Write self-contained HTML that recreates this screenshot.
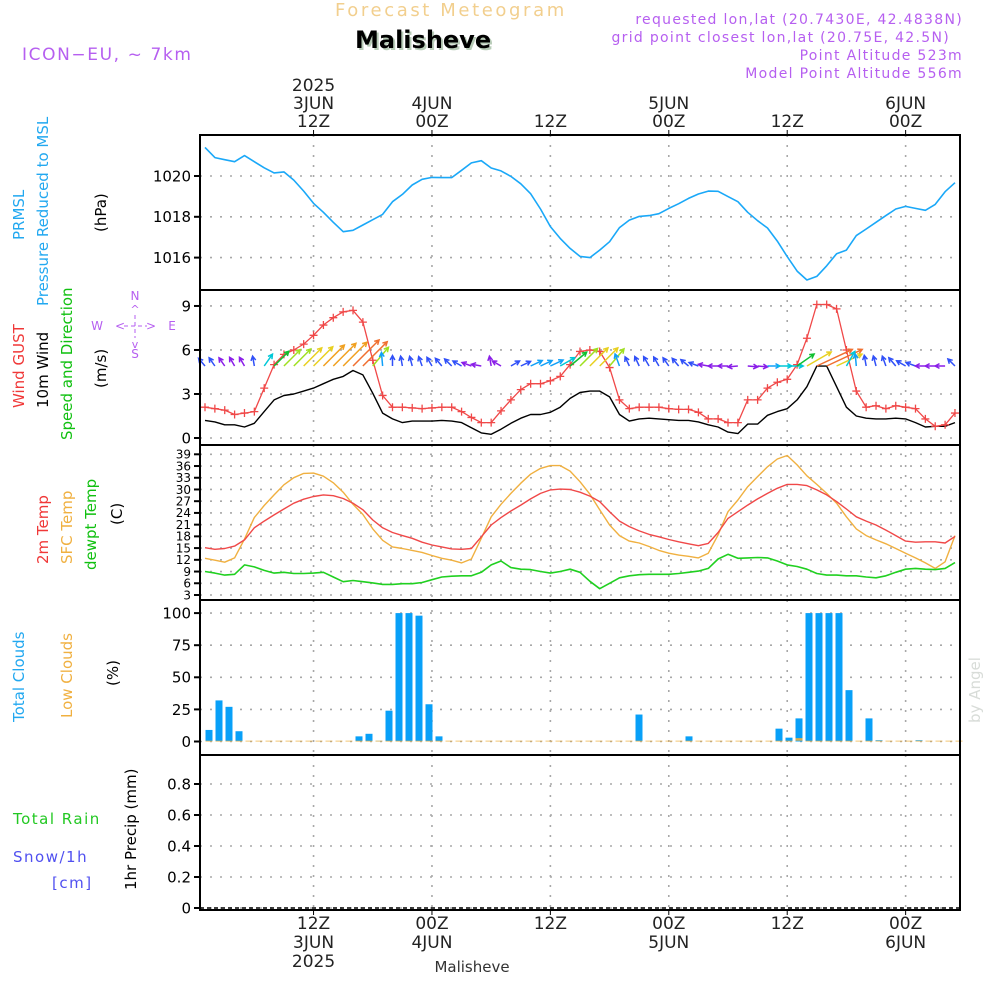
<!DOCTYPE html>
<html><head><meta charset="utf-8"><title>Forecast Meteogram - Malisheve</title>
<style>
html,body{margin:0;padding:0;background:#fff;}
svg{display:block;}
text{font-family:"DejaVu Sans","Liberation Sans",sans-serif;}
</style></head>
<body>
<svg id="chart" width="1000" height="1000" viewBox="0 0 1000 1000" xmlns="http://www.w3.org/2000/svg">
<rect x="0" y="0" width="1000" height="1000" fill="#fff"/>
<text x="335" y="16" font-size="18" fill="#f2cf8e" letter-spacing="2.6">Forecast Meteogram</text>
<text x="357" y="50" font-size="24" font-weight="bold" fill="#b8ccb8" font-family="Liberation Serif,serif">Malisheve</text>
<text x="355" y="48" font-size="24" font-weight="bold" fill="#000" font-family="Liberation Serif,serif">Malisheve</text>
<text x="22" y="60" font-size="17" fill="#b65ff0" letter-spacing="1.6">ICON−EU, ~ 7km</text>
<g font-size="14" fill="#b65ff0" text-anchor="end" letter-spacing="1.3">
<text x="963" y="24">requested lon,lat (20.7430E, 42.4838N)</text>
<text x="950" y="42">grid point closest lon,lat (20.75E, 42.5N)</text>
<text x="963" y="60">Point Altitude 523m</text>
<text x="963" y="78">Model Point Altitude 556m</text>
</g>
<text x="980" y="690" font-size="15" fill="#d8dcd8" font-family="Liberation Serif,serif" transform="rotate(-90 980 690)" text-anchor="middle">by Angel</text>

<g font-size="15">
<text transform="translate(24,240) rotate(-90)" fill="#22a8f0">PRMSL</text>
<text transform="translate(48,306) rotate(-90)" fill="#22a8f0">Pressure Reduced to MSL</text>
<text transform="translate(106,232) rotate(-90)" fill="#000">(hPa)</text>
<text transform="translate(24,408) rotate(-90)" fill="#f03838">Wind GUST</text>
<text transform="translate(48,408) rotate(-90)" fill="#000">10m Wind</text>
<text transform="translate(72,440) rotate(-90)" fill="#10c010">Speed and Direction</text>
<text transform="translate(106,388) rotate(-90)" fill="#000">(m/s)</text>
<text transform="translate(48,564) rotate(-90)" fill="#f03838">2m Temp</text>
<text transform="translate(72,564) rotate(-90)" fill="#f0b040">SFC Temp</text>
<text transform="translate(96,570) rotate(-90)" fill="#10c010">dewpt Temp</text>
<text transform="translate(122,525) rotate(-90)" fill="#000">(C)</text>
<text transform="translate(24,722) rotate(-90)" fill="#22a8f0">Total Clouds</text>
<text transform="translate(72,718) rotate(-90)" fill="#f0b040">Low Clouds</text>
<text transform="translate(118,686) rotate(-90)" fill="#000">(%)</text>
<text transform="translate(136,890) rotate(-90)" fill="#000">1hr Precip (mm)</text>
<text x="13" y="824" fill="#22c822" letter-spacing="1.5">Total  Rain</text>
<text x="13" y="862" fill="#5050f0" letter-spacing="1.5">Snow/1h</text>
<text x="52" y="888" fill="#5050f0" letter-spacing="1.5">[cm]</text>
</g>
<g fill="#b65ff0" stroke="#b65ff0" font-size="12" text-anchor="middle">
<text x="135" y="300" stroke="none">N</text>
<text x="135" y="358" stroke="none">S</text>
<text x="97" y="330" stroke="none">W</text>
<text x="172" y="330" stroke="none">E</text>
<text x="135" y="313" stroke="none" font-size="11">^</text>
<text x="135" y="348" stroke="none" font-size="11">v</text>
<text x="120" y="330" stroke="none" font-size="12">&lt;</text>
<text x="151" y="330" stroke="none" font-size="12">&gt;</text>
<line x1="124" y1="326" x2="147" y2="326" stroke-width="1" stroke-dasharray="4,3"/>
<line x1="135" y1="315" x2="135" y2="338" stroke-width="1" stroke-dasharray="4,3"/>
</g>

<g id="grid"></g>
<g id="marks"></g>
<g id="axes"></g>
</svg>
<script>
const pressure = [1021.4,1020.9,1020.8,1020.7,1021.0,1020.7,1020.4,1020.15,1020.2,1019.8,1019.26,1018.66,1018.22,1017.73,1017.27,1017.34,1017.6,1017.86,1018.12,1018.74,1019.1,1019.56,1019.84,1019.93,1019.92,1019.92,1020.28,1020.64,1020.75,1020.39,1020.25,1019.98,1019.62,1019.13,1018.38,1017.52,1016.94,1016.45,1016.06,1016.0,
1016.37,1016.78,1017.47,1017.84,1018.02,1018.06,1018.15,1018.41,1018.64,1018.9,1019.12,1019.26,1019.25,1018.99,1018.74,1018.22,1017.81,1017.45,1016.81,1016.05,1015.34,1014.9,1015.08,1015.6,1016.19,1016.37,1017.08,1017.4,1017.73,1018.06,1018.38,1018.51,1018.41,1018.32,1018.61,1019.23,1019.67];
const windGust = [2.1,2.0,1.9,1.6,1.7,1.8,3.4,5.0,5.7,6.0,6.4,7.0,7.7,8.2,8.6,8.7,7.9,5.3,2.9,2.1,2.1,2.05,2.0,2.05,2.1,2.1,1.8,1.4,1.05,1.05,1.85,2.6,3.3,3.7,3.7,3.9,4.2,5.0,5.9,
6.0,5.9,4.8,2.6,2.0,2.1,2.1,2.1,2.0,1.95,1.95,1.75,1.3,1.3,1.05,1.05,2.6,2.6,3.4,3.8,4.0,5.0,6.8,9.1,9.1,8.8,6.0,3.2,2.1,2.2,2.0,2.2,2.1,2.0,1.3,0.8,0.9,1.7];
const windSpeed = [1.2,1.1,0.9,0.9,0.75,1.0,1.8,2.6,2.9,3.0,3.2,3.4,3.7,4.0,4.2,4.6,4.3,3.05,1.7,1.3,1.05,1.15,1.15,1.15,1.2,1.15,1.05,0.7,0.35,0.25,0.6,1.0,1.35,1.6,1.6,1.75,2.1,2.7,3.1,3.2,
3.2,2.8,1.6,1.15,1.3,1.35,1.3,1.25,1.2,1.2,1.1,0.9,0.75,0.4,0.3,0.95,0.95,1.55,1.8,2.0,2.6,3.5,4.9,4.9,3.5,2.1,1.5,1.35,1.3,1.3,1.35,1.3,1.05,0.75,0.8,0.8,1.05];
const windDir = [130,125,125,120,120,100,55,45,45,45,45,45,45,45,45,45,45,50,95,90,100,105,110,120,130,135,150,160,170,100,150,30,25,25,25,25,30,40,45,45,
45,50,110,115,115,120,120,125,130,140,160,170,180,180,185,-5,-5,0,0,0,35,30,25,25,25,60,95,100,105,110,130,150,160,180,180,180,135];
const temp2m = [15.1,14.7,14.9,15.5,17.1,20.2,21.9,23.5,25.0,26.5,27.5,28.2,28.6,28.4,27.7,26.5,24.8,22.2,20.2,19.0,18.2,17.5,16.5,15.8,15.3,14.8,14.7,14.9,17.9,20.9,22.8,24.5,26.0,27.6,29.0,29.9,30.1,30.0,29.3,28.3,
26.9,24.3,21.9,20.5,19.4,18.5,17.9,17.2,16.6,16.1,15.6,16.2,19.0,22.6,24.3,26.0,27.6,29.0,30.3,31.3,31.3,31.0,29.9,28.6,26.9,25.0,23.0,21.9,20.9,19.6,18.2,16.8,16.5,16.6,16.6,16.3,18.0];
const tempSfc = [12.4,11.9,11.4,12.5,17.3,22.8,25.9,28.6,31.2,33.0,34.1,34.2,33.4,31.7,29.3,26.2,23.6,19.9,17.0,15.3,14.9,14.4,13.9,13.1,12.4,11.9,11.2,12.2,17.5,23.0,26.2,29.0,31.6,33.9,35.4,36.1,36.1,34.7,32.0,28.8,
24.8,20.9,18.2,16.8,16.3,15.4,14.4,13.7,13.2,12.9,12.5,13.7,18.4,24.3,27.3,30.7,33.3,35.8,37.8,38.7,36.3,33.5,31.3,29.0,26.5,23.0,19.9,18.2,17.1,16.1,14.9,13.7,12.5,11.2,9.8,11.5,18.2];
const dewpt = [9.0,8.6,8.1,8.3,10.7,10.2,9.3,8.6,8.8,8.5,8.5,8.6,8.8,7.6,6.4,6.7,6.4,6.1,5.7,5.7,5.9,5.9,6.2,6.9,7.6,7.8,7.9,7.9,8.8,10.7,11.7,10.0,9.6,9.5,9.0,8.6,9.0,9.6,8.8,6.5,
4.6,6.0,7.4,7.9,8.2,8.3,8.3,8.3,8.5,8.8,9.1,9.8,12.2,13.4,12.4,12.5,12.6,12.5,11.7,10.7,10.3,9.6,8.5,8.1,8.1,7.9,7.9,7.6,7.4,7.9,8.8,9.6,9.8,9.6,9.5,9.8,11.3];
const totalClouds = [9,32,27,8,0,0,0,0,0,0,0,0,0,0,0,4,6,0.5,24,100,100,98,29,4,0,0,0,0,0,0,0,0,0,0,0,0,0,0,0,0,
0,0,0,21,0,0,0,0,4,0,0,0,0,0,0,0,0,10,3,18,100,100,100,100,40,0,18,1,0,0,0,1,0,0,0,0];
const lowClouds = [0,0,0,0,0,0,0,0,0,0,0,0,0,0,0,0,0,0,0,0,0,0,0,0,0,0,0,0,0,0,0,0,0,0,0,0,0,0,0,0,
0,0,0,0,0,0,0,0,0,0,0,0,0,0,0,0,0,0,0,2,0,0,0,0,0,0,0,0,0,0,0,0,0,0,0,0];
const precip = [];
const pressureTicks = [1016,1018,1020];
const windTicks = [0,3,6,9];
const tempTicks = [3,6,9,12,15,18,21,24,27,30,33,36,39];
const cloudTicks = [0,25,50,75,100];
const precipTicks = [0,0.2,0.4,0.6,0.8];
const timeTickHours = [11,23,35,47,59,71];
const topTimeLabels = [["2025","3JUN","12Z"],["","4JUN","00Z"],["","","12Z"],["","5JUN","00Z"],["","","12Z"],["","6JUN","00Z"]];
const bottomTimeLabels = [["12Z","3JUN","2025"],["00Z","4JUN",""],["12Z","",""],["00Z","5JUN",""],["12Z","",""],["00Z","6JUN",""]];

const L=200,R=960;
const xh = h => 205 + h*9.868;
const xc = i => 209 + i*10;
const yP = p => 176 + (1020-p)*20.4;
const yW = v => 438 - v*14.67;
const yT = t => 454.3 + (39-t)*3.908;
const yC = c => 741.5 - c*1.284;
const yR = r => 908 - r*155;
const NS="http://www.w3.org/2000/svg";
const grid=document.getElementById('grid'), marks=document.getElementById('marks'), axes=document.getElementById('axes');
function mk(tag,attrs,parent){const e=document.createElementNS(NS,tag);for(const k in attrs)e.setAttribute(k,attrs[k]);parent.appendChild(e);return e;}
function txt(x,y,s,attrs,parent){const e=mk('text',Object.assign({x:x,y:y},attrs),parent);e.textContent=s;return e;}

function yAxis(ticks,yf,fmt,fs,name,top,bot){
  ticks.forEach(t=>{
    const y=yf(t);
    const g=mk('line',{x1:L,x2:R,y1:y,y2:y,stroke:'#a8a8a8','stroke-width':1.6,'stroke-dasharray':'2,8'},grid);
    
    
    const tk=mk('line',{x1:L-6,x2:L,y1:y,y2:y,stroke:'#000','stroke-width':2},axes);
    
    
    const lb=txt(L-9,y+fs*0.36,fmt(t),{'font-size':fs,'text-anchor':'end',fill:'#000'},axes);
    
    
  });
  timeTickHours.forEach(h=>{
    const x=xh(h);
    const v=mk('line',{x1:x,x2:x,y1:top,y2:bot,stroke:'#a8a8a8','stroke-width':1.6,'stroke-dasharray':'2,8'},grid);
    
    
  });
}
yAxis(pressureTicks,yP,String,15,'pressure-axis',135,290);
yAxis(windTicks,yW,String,15,'wind-axis',290,445);
yAxis(tempTicks,yT,String,12,'temp-axis',445,600);
yAxis(cloudTicks,yC,String,15,'cloud-axis',600,755);
yAxis(precipTicks,yR,t=>t===0?'0':t.toFixed(1),15,'precip-axis',755,910);

[135,290,445,600,755,910].forEach(y=>{
  const l=mk('line',{x1:L-1,x2:R+1,y1:y,y2:y,stroke:'#000','stroke-width':2},axes);
  
  
});
[L,R].forEach(x=>{
  const l=mk('line',{x1:x,x2:x,y1:135,y2:910,stroke:'#000','stroke-width':2},axes);
  
  
});
timeTickHours.forEach((h,i)=>{
  const x=xh(h);
  const t1=mk('line',{x1:x,x2:x,y1:130,y2:135,stroke:'#000','stroke-width':1},axes);
  
  
  const t2=mk('line',{x1:x,x2:x,y1:910,y2:915,stroke:'#000','stroke-width':1},axes);
  
  
  topTimeLabels[i].forEach((s,k)=>{ if(!s)return;
    const e=txt(x,91+k*18,s,{'font-size':17,'text-anchor':'middle',fill:'#222'},axes);
    
    
  });
  bottomTimeLabels[i].forEach((s,k)=>{ if(!s)return;
    const e=txt(x,929+k*19,s,{'font-size':17,'text-anchor':'middle',fill:'#222'},axes);
    
    
  });
});
const bn=txt(472,972,'Malisheve',{'font-size':15,'text-anchor':'middle',fill:'#333','font-family':'Liberation Serif,serif'},axes);


const zl=mk('line',{x1:L,x2:R,y1:908,y2:908,stroke:'#000','stroke-width':1.5,'stroke-dasharray':'4,3'},marks);



function line(arr,yf,color,name,w){
  const pts=arr.map((v,i)=>xh(i).toFixed(1)+','+yf(v).toFixed(1)).join(' ');
  const p=mk('polyline',{points:pts,fill:'none',stroke:color,'stroke-width':w||1.4,'stroke-linejoin':'round'},marks);
  
  
}
line(pressure,yP,'#1aa8f8','pressure-line',1.6);
line(windSpeed,yW,'#000','wind-speed-line',1.4);
line(windGust,yW,'#f04848','wind-gust-line',1.3);
windGust.forEach((v,i)=>{
  const x=xh(i),y=yW(v);
  const m=mk('path',{d:`M${x-4},${y}H${x+4}M${x},${y-4}V${y+4}`,stroke:'#f04848','stroke-width':1.3},marks);
  
  
});
function windColor(s){
  if(s<1.0)return '#8a1ee8';
  if(s<1.4)return '#3050f8';
  if(s<1.8)return '#10a0f8';
  if(s<2.3)return '#00c8d8';
  if(s<2.8)return '#10c030';
  if(s<3.2)return '#a0e020';
  if(s<3.7)return '#e8d020';
  if(s<4.3)return '#f0a020';
  return '#f07030';
}
windSpeed.forEach((s,i)=>{
  const x0=xh(i),y0=366;
  const len=Math.max(10,s*8);
  const a=windDir[i]*Math.PI/180;
  const x1=x0+len*Math.cos(a),y1=y0-len*Math.sin(a);
  const c=windColor(s);
  const hl=5,ha=0.5;
  const b1x=x1-hl*Math.cos(a-ha),b1y=y1+hl*Math.sin(a-ha);
  const b2x=x1-hl*Math.cos(a+ha),b2y=y1+hl*Math.sin(a+ha);
  const ar=mk('path',{d:`M${x0},${y0}L${x1},${y1}M${b1x},${b1y}L${x1},${y1}L${b2x},${b2y}`,stroke:c,'stroke-width':1.5,fill:'none'},marks);
  
  
});
line(tempSfc,yT,'#f0b040','sfc-temp-line',1.4);
line(temp2m,yT,'#f04848','temp-2m-line',1.4);
line(dewpt,yT,'#20d020','dewpoint-line',1.6);
totalClouds.forEach((c,i)=>{
  const x=xc(i);
  const r=mk('rect',{x:x-3.5,y:yC(c),width:7,height:Math.max(0,yC(0)-yC(c)),fill:'#08a0f8'},marks);
  
  
  const l=mk('rect',{x:x-3.5,y:yC(lowClouds[i])-0.8,width:7,height:Math.max(0.8,yC(0)-yC(lowClouds[i])),fill:'#f0b040',opacity:0.9},marks);
  
  
});
precip.forEach((r,i)=>{
  const x=xc(i);
  const b=mk('rect',{x:x-3.5,y:yR(r),width:7,height:yR(0)-yR(r),fill:'#20c820'},marks);
  
  
});
</script>
</body></html>
